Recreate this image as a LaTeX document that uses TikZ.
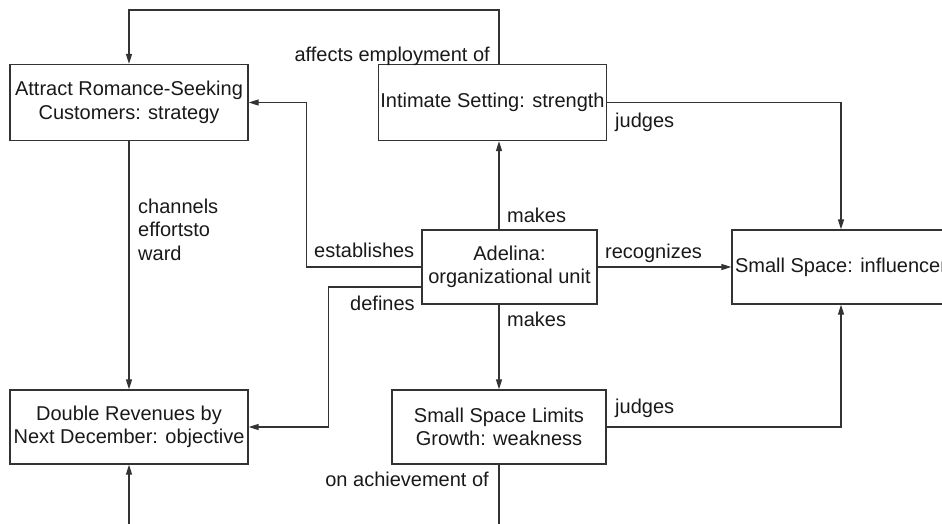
\documentclass[tikz,border=0pt]{standalone}
\usepackage{fontspec}
\setmainfont{Liberation Sans}
\usetikzlibrary{arrows.meta,calc}

\tikzset{
  box/.style={draw=black!80, line width=1.3pt, rectangle, align=center,
    inner sep=2pt, font=\fontsize{20}{23.5}\selectfont, text=black!90},
  lbl/.style={inner sep=0pt, font=\fontsize{20}{23.5}\selectfont, text=black!90},
  conn/.style={draw=black!80, line width=1.3pt,
    -{Triangle[length=10pt,width=6pt]}},
  plain/.style={draw=black!80, line width=1.3pt},
}

\begin{document}
\begin{tikzpicture}[x=1pt,y=1pt]
  \clip (0,0) rectangle (942,-523);

  % concept boxes
  \node[box, minimum width=238, minimum height=76] (attract) at (129,-102.5)
    {Attract Romance-Seeking\\Customers: strategy};
  \node[box, minimum width=227, minimum height=76] (intimate) at (492.5,-102.5)
    {Intimate Setting: strength};
  \node[box, minimum width=175, minimum height=74] (adelina) at (509.5,-267)
    {Adelina:\\organizational unit};
  \node[box, minimum width=218, minimum height=74] (influencer) at (841,-267)
    {Small Space: influencer};
  \node[box, minimum width=238, minimum height=74] (double) at (129,-427)
    {Double Revenues by\\Next December: objective};
  \node[box, minimum width=214, minimum height=74] (limits) at (499,-427)
    {Small Space Limits\\Growth: weakness};

  % loose ends running past the lower edge
  \coordinate (inbottom) at (129,-535);
  \coordinate (outbottom) at (499,-535);

  % connectors
  \draw[conn] (intimate.north -| limits.north) -- ++(0,54) -| (attract.north);
  \draw[conn] (intimate.east) -| (influencer.north);
  \draw[conn] (limits.north |- adelina.north) -- (limits.north |- intimate.south);
  \draw[conn] (adelina.west) -- ++(-115,0) |- (attract.east);
  \draw[conn] ($(adelina.west)+(0,-20)$) -- ++(-93,0) |- (double.east);
  \draw[conn] (adelina.east) -- (influencer.west);
  \draw[conn] (limits.north |- adelina.south) -- (limits.north);
  \draw[conn] (limits.east) -| (influencer.south);
  \draw[conn] (attract.south) -- (double.north);
  \draw[conn] (inbottom) -- (double.south);
  \draw[plain] (limits.south) -- (outbottom);

  % connector labels
  \node[lbl, anchor=base east] (l-affects) at (490,-61) {affects employment of};
  \node[lbl, anchor=base west] (l-judges1) at (615,-127) {judges};
  \node[lbl, anchor=base west] (l-makes1) at (507,-222) {makes};
  \node[lbl, anchor=north west, align=left] (l-channels) at (138,-198.4)
    {channels\\effortsto\\ward};
  \node[lbl, anchor=base west] (l-establishes) at (314,-257) {establishes};
  \node[lbl, anchor=base west] (l-defines) at (350,-310) {defines};
  \node[lbl, anchor=base west] (l-recognizes) at (605,-258) {recognizes};
  \node[lbl, anchor=base west] (l-makes2) at (507,-326) {makes};
  \node[lbl, anchor=base west] (l-judges2) at (615,-413) {judges};
  \node[lbl, anchor=base east] (l-achievement) at (489,-486) {on achievement of};
\end{tikzpicture}
\end{document}
